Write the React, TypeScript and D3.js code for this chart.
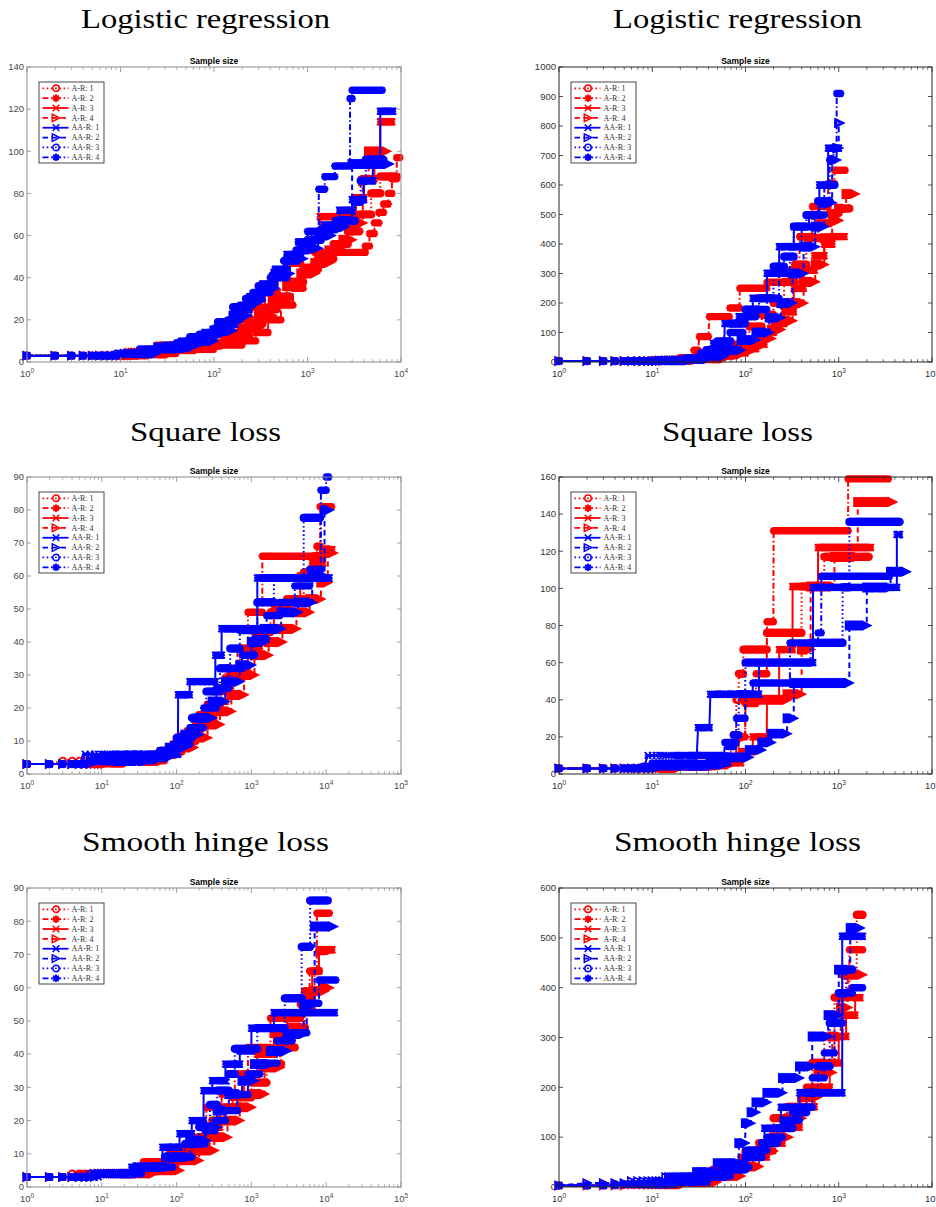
import React from 'react';
import * as d3 from 'd3';

type Step = [number, number];

// ---------- Panel titles, axes ----------
const TITLES = ['Logistic regression', 'Logistic regression', 'Square loss', 'Square loss', 'Smooth hinge loss', 'Smooth hinge loss'];
const X_DECADES = [4, 4, 5, 4, 5, 4];
const Y_MAX = [140, 1000, 90, 160, 90, 600];
const Y_STEP = [20, 100, 10, 20, 10, 100];
const LEGEND_LABELS = ['A-R: 1', 'A-R: 2', 'A-R: 3', 'A-R: 4', 'AA-R: 1', 'AA-R: 2', 'AA-R: 3', 'AA-R: 4'];

// ---------- Logistic regression (left) ----------
const LRL_AR1: Step[] = [[1,3],[16,5],[28,7],[80,9],[160,12],[240,18],[330,25],[470,31],[650,38],[900,44],[1300,49],[1900,56],[2700,62],[3600,70],[4800,80],[6000,88],[9000,88]];
const LRL_AR2: Step[] = [[1,3],[20,4],[40,6],[100,8],[200,10],[280,14],[380,20],[520,27],[700,35],[900,45],[1200,52],[4150,55],[4600,61],[5200,66],[5800,71],[6500,75],[7300,80],[8000,87],[9000,97],[9700,97]];
const LRL_AR3: Step[] = [[1,3],[12,5],[25,8],[60,9],[120,14],[180,20],[250,26],[350,33],[480,40],[620,47],[850,53],[1100,58],[1360,69],[3300,78],[4000,87],[5200,100],[6000,114],[8000,114]];
const LRL_AR4: Step[] = [[1,3],[15,4],[35,6],[70,8],[130,11],[200,16],[300,22],[420,29],[600,36],[850,42],[1200,47],[1700,53],[2400,58],[3000,66],[3900,86],[4500,100],[7000,100]];
const LRL_AA1: Step[] = [[1,3],[10,4],[20,6],[45,10],[80,14],[130,18],[170,25],[240,31],[330,37],[450,44],[600,51],[800,57],[1100,62],[1500,65],[2200,72],[3000,77],[4000,86],[5000,95],[6000,119],[8200,119]];
const LRL_AA2: Step[] = [[1,3],[11,4],[25,7],[60,10],[100,15],[160,22],[230,29],[320,35],[450,42],[650,49],[900,54],[1300,60],[1800,64],[2500,67],[3000,94],[7500,94]];
const LRL_AA3: Step[] = [[1,3],[9,4],[16,6],[40,9],[70,13],[110,19],[160,26],[220,30],[300,36],[420,41],[560,48],[760,53],[1000,58],[1400,63],[2000,67],[3200,76],[3700,86],[4200,96],[6500,96]];
const LRL_AA4: Step[] = [[1,3],[10,4],[18,6],[30,8],[55,12],[100,16],[140,20],[190,27],[260,33],[400,40],[600,50],[800,57],[1000,62],[1320,82],[1530,88],[1960,93],[2850,125],[3000,129],[6300,129]];

// ---------- Logistic regression (right) ----------
const LRR_AR1: Step[] = [[1,3],[10,6],[20,12],[35,25],[55,40],[80,60],[110,120],[150,160],[200,200],[260,272],[340,330],[450,420],[600,470],[800,505],[1000,520],[1300,520]];
const LRR_AR2: Step[] = [[1,3],[12,8],[20,15],[28,40],[32,86],[41,154],[68,183],[87,250],[170,270],[300,312],[380,425],[520,527],[770,605],[900,650],[1170,650]];
const LRR_AR3: Step[] = [[1,3],[12,5],[25,10],[45,20],[70,30],[100,45],[130,60],[160,100],[200,130],[260,170],[330,250],[420,312],[550,360],[700,400],[850,425],[1150,425]];
const LRR_AR4: Step[] = [[1,3],[14,6],[30,12],[60,25],[90,40],[120,55],[150,80],[190,110],[240,140],[320,200],[420,272],[560,330],[700,420],[850,480],[1000,520],[1200,570],[1500,570]];
const LRR_AA1: Step[] = [[1,3],[10,5],[22,10],[35,30],[45,64],[60,130],[85,154],[120,216],[170,301],[230,391],[330,459],[480,498],[620,600],[770,725],[1000,725]];
const LRR_AA2: Step[] = [[1,3],[12,5],[25,10],[40,20],[60,40],[90,75],[130,100],[180,150],[240,200],[320,300],[420,391],[560,459],[700,540],[850,685],[950,725],[1000,810],[1030,810]];
const LRR_AA3: Step[] = [[1,3],[11,5],[24,12],[38,40],[50,70],[70,130],[100,178],[140,216],[200,323],[260,357],[330,459],[450,498],[600,545],[800,600],[900,600]];
const LRR_AA4: Step[] = [[1,3],[10,4],[20,10],[33,30],[48,64],[68,100],[95,154],[130,178],[170,216],[230,301],[300,391],[400,459],[550,498],[700,600],[800,685],[880,725],[950,910],[1050,910]];

// ---------- Square loss (left) ----------
const SQL_AR1: Step[] = [[1,3],[3,4],[15,5],[60,7],[100,10],[180,16],[260,21],[380,26],[520,30],[700,38],[1100,43],[1800,49],[3000,53],[5000,61],[7000,66],[9000,68],[11000,68]];
const SQL_AR2: Step[] = [[1,3],[20,4],[70,7],[120,12],[200,18],[300,25],[450,32],[650,38],[900,49],[1400,66],[7500,69],[8300,81],[11800,81]];
const SQL_AR3: Step[] = [[1,3],[10,4],[50,6],[90,9],[140,13],[210,17],[320,22],[450,29],[620,32],[900,38],[1300,44],[2000,50],[3200,53],[4500,60],[6500,64],[9000,68],[12000,68]];
const SQL_AR4: Step[] = [[1,3],[12,4],[65,6],[110,8],[170,11],[260,15],[380,19],[540,24],[800,30],[1100,36],[1700,40],[2600,44],[4000,49],[6000,53],[8500,58],[10500,67],[12500,67]];
const SQL_AA1: Step[] = [[1,3],[6,6],[105,24],[150,28],[330,36],[400,44],[1200,59.4],[11000,59.4]];
const SQL_AA2: Step[] = [[1,3],[8,4],[40,5],[80,8],[130,12],[200,17],[300,22],[450,28],[700,33],[1000,40],[1500,44],[2500,49],[4200,52],[6500,60],[9500,80],[11000,80]];
const SQL_AA3: Step[] = [[1,3],[6,5],[60,7],[100,11],[160,17],[250,25],[380,32],[520,38],[700,43.6],[1200,52],[2000,59.4],[5000,77.6],[8300,77.6]];
const SQL_AA4: Step[] = [[1,3],[7,4],[50,6],[90,9],[150,14],[230,20],[340,26],[500,32],[750,36],[1100,41],[1600,48],[2400,52],[3800,57],[6000,62],[8500,86],[10000,90],[10800,90]];

// ---------- Square loss (right) ----------
const SQR_AR1: Step[] = [[1,3],[10,4],[40,6],[70,15],[75,21],[80,40],[85,54],[95,67],[170,76],[400,101],[700,117],[2100,117]];
const SQR_AR2: Step[] = [[1,3],[15,4],[50,7],[80,20],[100,38],[130,54],[170,82],[200,131],[1260,159],[3400,159]];
const SQR_AR3: Step[] = [[1,3],[12,4],[45,6],[90,12],[120,20],[170,40],[230,67],[320,101],[600,122],[2200,122]];
const SQR_AR4: Step[] = [[1,3],[20,5],[70,8],[85,20],[100,40],[280,43],[400,67],[500,101],[900,117],[1600,146.6],[3800,146.6]];
const SQR_AA1: Step[] = [[1,3],[9,10],[31,25],[42,43],[140,60],[530,100.5],[4200,129],[4500,129]];
const SQR_AA2: Step[] = [[1,3],[12,5],[60,9],[110,13],[150,17],[190,21.7],[280,30],[330,49],[1100,49],[1300,80],[1800,80],[2000,100.5],[3500,100.5],[3600,109],[5300,109]];
const SQR_AA3: Step[] = [[1,3],[8,4],[40,6],[65,15],[75,21],[85,43],[100,60],[500,70.6],[1100,100.5],[1300,135.8],[4500,135.8]];
const SQR_AA4: Step[] = [[1,3],[10,6],[30,10],[60,17],[80,30],[100,43],[120,49],[300,70.6],[600,76],[650,106.5],[3500,106.5]];

// ---------- Smooth hinge loss (left) ----------
const SHL_AR1: Step[] = [[1,3],[4,4],[30,5],[70,8],[120,11],[200,15],[300,20],[450,24],[700,27],[1000,31.4],[1600,37],[2500,42],[3800,48],[5200,59],[7000,65],[8000,71],[10000,71]];
const SHL_AR2: Step[] = [[1,3],[5,4],[36,7.6],[80,11],[150,15],[250,24],[400,28],[600,34],[900,42],[1800,50.8],[4500,55],[6000,65],[7500,82.4],[11000,82.4]];
const SHL_AR3: Step[] = [[1,3],[6,4],[40,6],[100,9],[170,13],[260,18],[380,24],[560,27],[800,34],[1200,40],[2000,46],[3000,51],[4500,57],[6500,65],[8000,71.4],[12000,71.4]];
const SHL_AR4: Step[] = [[1,3],[8,4],[50,5],[110,8],[200,11],[320,15],[480,20],[700,24],[1000,28],[1500,36],[2400,42],[3500,48],[5000,53],[7000,59],[9500,60],[11000,60]];
const SHL_AA1: Step[] = [[1,3],[10,4],[25,6],[65,12],[110,16],[160,20],[230,29],[300,32],[450,37],[700,41],[1000,47.8],[2000,52.5],[13000,52.5]];
const SHL_AA2: Step[] = [[1,3],[9,4],[30,6],[80,9],[150,14],[250,18],[350,23],[500,28],[750,32],[1100,37],[1800,41],[3000,46],[5000,55],[7000,78.4],[12500,78.4]];
const SHL_AA3: Step[] = [[1,3],[7,4],[28,6],[70,9],[130,13],[200,18],[280,24.7],[350,29],[500,34],[600,41.6],[1200,47.8],[2800,56.8],[4700,72.3],[6100,86.2],[10500,86.2]];
const SHL_AA4: Step[] = [[1,3],[8,4],[35,6],[90,9],[160,13],[240,17],[330,20],[450,23],[650,27.8],[900,34],[1300,37.3],[2200,44],[3500,46.4],[5500,55.3],[8000,62.3],[13500,62.3]];

// ---------- Smooth hinge loss (right) ----------
const SHR_AR1: Step[] = [[1,3],[3,5],[12,10],[25,20],[45,35],[70,45],[100,72],[140,88],[200,138],[280,161],[400,181],[520,249],[700,302],[900,380],[1100,426],[1560,546],[1800,546]];
const SHR_AR2: Step[] = [[1,3],[4,6],[15,12],[30,25],[55,41],[90,60],[130,72],[200,118],[300,161],[450,200],[650,249],[900,302],[1100,380],[1300,476],[1800,476]];
const SHR_AR3: Step[] = [[1,3],[5,5],[20,12],[40,25],[70,41],[120,60],[170,88],[250,120],[380,161],[550,200],[800,249],[1000,302],[1200,345],[1500,380],[1700,380]];
const SHR_AR4: Step[] = [[1,3],[6,5],[22,10],[50,22],[90,41],[140,72],[200,100],[290,138],[400,181],[600,230],[850,302],[1050,360],[1250,426],[1800,426]];
const SHR_AA1: Step[] = [[1,3],[5,6],[18,14],[35,30],[60,48],[100,74],[160,118],[240,160],[380,189],[1090,503],[1800,503]];
const SHR_AA2: Step[] = [[1,3],[2,8],[6,12],[14,20],[30,30],[50,48],[85,88],[100,128],[115,150],[130,170],[170,189],[250,219],[380,242],[520,302],[770,345],[1000,436],[1330,520],[1700,520]];
const SHR_AA3: Step[] = [[1,3],[4,5],[15,10],[30,20],[60,35],[100,60],[150,88],[220,118],[320,150],[450,189],[600,242],[800,329],[1000,389],[1200,436],[1400,436]];
const SHR_AA4: Step[] = [[1,3],[5,5],[18,10],[40,22],[70,40],[110,74],[170,100],[250,134],[380,160],[520,219],[700,269],[900,329],[1100,389],[1400,400],[1800,400]];

const PANEL_SERIES: Step[][][] = [
  [LRL_AR1, LRL_AR2, LRL_AR3, LRL_AR4, LRL_AA1, LRL_AA2, LRL_AA3, LRL_AA4],
  [LRR_AR1, LRR_AR2, LRR_AR3, LRR_AR4, LRR_AA1, LRR_AA2, LRR_AA3, LRR_AA4],
  [SQL_AR1, SQL_AR2, SQL_AR3, SQL_AR4, SQL_AA1, SQL_AA2, SQL_AA3, SQL_AA4],
  [SQR_AR1, SQR_AR2, SQR_AR3, SQR_AR4, SQR_AA1, SQR_AA2, SQR_AA3, SQR_AA4],
  [SHL_AR1, SHL_AR2, SHL_AR3, SHL_AR4, SHL_AA1, SHL_AA2, SHL_AA3, SHL_AA4],
  [SHR_AR1, SHR_AR2, SHR_AR3, SHR_AR4, SHR_AA1, SHR_AA2, SHR_AA3, SHR_AA4],
];

// ---------- styles ----------
const RED = '#ff0000';
const BLUE = '#0000ff';
const DOT = '1.6,2.6';
const DASH = '5.5,3.5';
const DASHDOT = '6,2.5,1.6,2.5';
const STYLES = [
  { color: RED, dash: DOT, marker: 'o' },
  { color: RED, dash: DASHDOT, marker: '*' },
  { color: RED, dash: '', marker: 'x' },
  { color: RED, dash: DASH, marker: '>' },
  { color: BLUE, dash: '', marker: 'x' },
  { color: BLUE, dash: DASH, marker: '>' },
  { color: BLUE, dash: DOT, marker: 'o' },
  { color: BLUE, dash: DASHDOT, marker: '*' },
];

function markerPath(type: string, x: number, y: number): string {
  const f = (v: number) => v.toFixed(1);
  if (type === 'o') {
    const r = 3.2;
    return `M${f(x - r)},${f(y)}a${r},${r} 0 1,0 ${2 * r},0a${r},${r} 0 1,0 ${-2 * r},0`;
  }
  if (type === 'x') {
    const s = 3.3;
    return `M${f(x - s)},${f(y - s)}L${f(x + s)},${f(y + s)}M${f(x - s)},${f(y + s)}L${f(x + s)},${f(y - s)}M${f(x - s)},${f(y)}L${f(x + s)},${f(y)}`;
  }
  if (type === '>') {
    const s = 3.7;
    return `M${f(x - s)},${f(y - s)}L${f(x + s)},${f(y)}L${f(x - s)},${f(y + s)}Z`;
  }
  // '*'
  const s = 3.7;
  const d = 2.7;
  return `M${f(x - s)},${f(y)}L${f(x + s)},${f(y)}M${f(x)},${f(y - s)}L${f(x)},${f(y + s)}M${f(x - d)},${f(y - d)}L${f(x + d)},${f(y + d)}M${f(x - d)},${f(y + d)}L${f(x + d)},${f(y - d)}`;
}

function Series({ steps, style, xs, ys }: { steps: Step[]; style: any; xs: any; ys: any }) {
  const pts: [number, number][] = [[steps[0][0], steps[0][1]]];
  for (let i = 1; i < steps.length; i++) {
    const [x, v] = steps[i];
    const pv = steps[i - 1][1];
    if (v !== pv) {
      pts.push([x - 1, pv]);
      pts.push([x, v]);
    } else pts.push([x, v]);
  }
  const line = d3.line<[number, number]>().x((d) => xs(d[0])).y((d) => ys(d[1]));
  let mk = '';
  for (let i = 0; i < steps.length; i++) {
    const start = steps[i][0];
    const end = i + 1 < steps.length ? steps[i + 1][0] - 1 : steps[i][0];
    const py = ys(steps[i][1]);
    let lastPx = -Infinity;
    for (let n = start; n <= end; n++) {
      const px = xs(n);
      if (n === start || n === end || px - lastPx >= 1) {
        mk += markerPath(style.marker, px, py);
        lastPx = px;
      }
    }
  }
  const filled = style.marker === '*';
  return (
    <g>
      <path d={line(pts) || ''} fill="none" stroke={style.color} strokeWidth={2} strokeDasharray={style.dash || undefined} />
      <path d={mk} fill="none" stroke={style.color} strokeWidth={filled ? 2.2 : 1.8} />
    </g>
  );
}

function Panel({ idx, x0, x1, top, bottom, tc, tb, dark }: any) {
  const decades = X_DECADES[idx];
  const xs = d3.scaleLog().domain([1, Math.pow(10, decades)]).range([x0, x1]);
  const ys = d3.scaleLinear().domain([0, Y_MAX[idx]]).range([bottom, top]);
  const axisColor = dark ? '#262626' : '#8a8a8a';
  const labelColor = dark ? '#333' : '#4a4a4a';
  const yTicks = d3.range(0, Y_MAX[idx] + Y_STEP[idx] / 2, Y_STEP[idx]);
  const majors = d3.range(0, decades + 1).map((k) => Math.pow(10, k));
  const minors: number[] = [];
  for (let k = 0; k < decades; k++) for (let m = 2; m <= 9; m++) minors.push(m * Math.pow(10, k));
  const lx = x0 + 12;
  const ly = top + 15;
  const tl = TITLES[idx] === 'Square loss' ? 151 : TITLES[idx] === 'Logistic regression' ? 249 : 247;
  return (
    <g>
      <text x={tc} y={tb} textAnchor="middle" fontFamily="'Liberation Serif', serif" fontSize={27}
        textLength={tl} lengthAdjust="spacingAndGlyphs" fill="#000">
        {TITLES[idx]}
      </text>
      <text x={(x0 + x1) / 2} y={top - 3.5} textAnchor="middle" fontFamily="'Liberation Sans', Arial, sans-serif" fontWeight="bold" fontSize={8.5} fill="#000">
        Sample size
      </text>
      {PANEL_SERIES[idx].map((s, i) => (
        <Series key={i} steps={s} style={STYLES[i]} xs={xs} ys={ys} />
      ))}
      <rect x={x0} y={top} width={x1 - x0} height={bottom - top} fill="none" stroke={axisColor} strokeWidth={1} />
      {yTicks.map((t) => (
        <g key={'y' + t}>
          <line x1={x0} x2={x0 + 4} y1={ys(t)} y2={ys(t)} stroke={axisColor} strokeWidth={0.8} />
          <line x1={x1} x2={x1 - 4} y1={ys(t)} y2={ys(t)} stroke={axisColor} strokeWidth={0.8} />
          <text x={x0 - 3} y={ys(t)} dy="0.35em" textAnchor="end" fontFamily="'Liberation Sans', Arial, sans-serif" fontSize={9.5} fill={labelColor}>
            {t}
          </text>
        </g>
      ))}
      {majors.map((t, k) => (
        <g key={'x' + k}>
          <line x1={xs(t)} x2={xs(t)} y1={bottom} y2={bottom - 5} stroke={axisColor} strokeWidth={0.8} />
          <line x1={xs(t)} x2={xs(t)} y1={top} y2={top + 5} stroke={axisColor} strokeWidth={0.8} />
          <text x={xs(t)} y={bottom + 15} textAnchor="middle" fontFamily="'Liberation Sans', Arial, sans-serif" fontSize={9.5} fill={labelColor}>
            10<tspan dy={-4} fontSize={6.5}>{k}</tspan>
          </text>
        </g>
      ))}
      {minors.map((t, k) => (
        <g key={'m' + k}>
          <line x1={xs(t)} x2={xs(t)} y1={bottom} y2={bottom - 2.8} stroke={axisColor} strokeWidth={0.7} />
          <line x1={xs(t)} x2={xs(t)} y1={top} y2={top + 2.8} stroke={axisColor} strokeWidth={0.7} />
        </g>
      ))}
      <rect x={lx} y={ly} width={65} height={81} fill="#fff" stroke="#333" strokeWidth={0.9} />
      {LEGEND_LABELS.map((lab, i) => {
        const y = ly + 6.3 + i * 9.86;
        const st = STYLES[i];
        return (
          <g key={lab}>
            <line x1={lx + 3.5} x2={lx + 29.5} y1={y} y2={y} stroke={st.color} strokeWidth={1.8} strokeDasharray={st.dash || undefined} />
            <path d={markerPath(st.marker, lx + 17, y)} fill="none" stroke={st.color} strokeWidth={st.marker === '*' ? 1.9 : 1.5} />
            <text x={lx + 32.5} y={y + 2.7} fontFamily="'Liberation Serif', serif" fontSize={8} fill="#333">
              {lab}
            </text>
          </g>
        );
      })}
    </g>
  );
}

export default function App() {
  const cols = [
    { x0: 27, x1: 401, tc: 205.5, dark: false },
    { x0: 559, x1: 932, tc: 737.5, dark: true },
  ];
  const rows = [
    { top: 67, bottom: 362, tb: 28 },
    { top: 477, bottom: 774, tb: 441 },
    { top: 888, bottom: 1187, tb: 851 },
  ];
  return (
    <svg width={936} height={1207} style={{ position: 'absolute', left: 0, top: 0, background: '#fff' }} xmlns="http://www.w3.org/2000/svg">
      <rect x={0} y={0} width={936} height={1207} fill="#fff" />
      {[0, 1, 2, 3, 4, 5].map((i) => {
        const c = cols[i % 2];
        const r = rows[Math.floor(i / 2)];
        return <Panel key={i} idx={i} {...c} {...r} />;
      })}
    </svg>
  );
}
